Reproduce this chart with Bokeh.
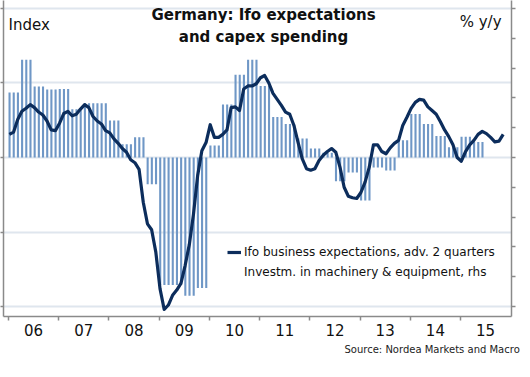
import numpy as np
from bokeh.plotting import figure
from bokeh.models import Range1d, LinearAxis, FixedTicker, Label, Legend, LegendItem, Title
from bokeh.embed import file_html
from bokeh.resources import INLINE

# ---------------- data ----------------
years = list(range(2006, 2016))
year_labels = ["06", "07", "08", "09", "10", "11", "12", "13", "14", "15"]

# Ifo business expectations (index), monthly from Jan 2006, advanced 2 quarters
ifo_values = [
    103.1, 103.4, 105.1, 106.2, 106.6, 107.1, 106.7, 106.1, 105.7, 104.9, 103.7, 103.6,
    104.6, 105.9, 106.2, 105.6, 105.8, 106.5, 107.1, 106.7, 105.5, 104.9, 104.5, 103.6,
    103.3, 102.5, 101.9, 101.2, 100.7, 99.7, 99.3, 98.4, 94.0, 91.1, 90.3, 87.3,
    82.4, 79.6, 80.2, 81.5, 82.2, 83.1, 85.5, 88.3, 92.4, 97.6, 100.9, 102.0,
    104.4, 102.7, 102.7, 103.1, 103.7, 106.7, 106.8, 106.3, 109.2, 109.6, 109.6, 109.9,
    110.7, 111.0, 110.0, 108.6, 107.8, 107.0, 106.1, 105.8, 104.3, 102.0, 99.8, 98.5,
    98.3, 98.5, 99.6, 100.3, 100.8, 101.2, 100.7, 98.7, 96.0, 94.8, 94.6, 94.5,
    95.3, 96.7, 98.7, 101.7, 101.7, 100.8, 100.5, 101.3, 101.9, 102.3, 104.3, 105.4,
    106.6, 107.4, 107.8, 107.7, 106.8, 106.3, 105.8, 104.8, 103.7, 102.8, 101.7, 100.0,
    99.5, 100.8, 101.7, 102.3, 103.1, 103.5, 103.2, 102.7, 102.1, 102.2, 103.1,
]

# Investment in machinery & equipment, % y/y, quarterly from 2006 Q1
capex_values = [
    10.9, 16.4, 11.9, 11.4,
    11.5, 8.1, 9.1, 9.1,
    6.2, 2.2, 3.4, -4.5,
    -21.4, -21.4, -23.2, -21.9,
    2.0, 8.9, 13.9, 16.4,
    12.0, 6.8, 5.6, 3.2,
    1.5, 0.8, -4.0, -2.5,
    -7.2, -1.7, -2.2, 2.9,
    7.3, 5.6, 3.6, 1.7,
    3.5, 2.6,
]

left_ticks = [80, 90, 100, 110, 120]
right_ticks = [-25, -20, -15, -10, -5, 0, 5, 10, 15, 20, 25]

# ---------------- derived positions ----------------
month_x = [2006 + (m + 0.2) / 12 for m in range(len(ifo_values))]
bar_x, bar_top = [], []
for q, v in enumerate(capex_values):
    for j in range(3):
        bar_x.append(2006 + (3 * q + j + 0.25) / 12)
        bar_top.append(v)

LINE = "#0c2d5c"
BAR = "#6f97c6"
GRID = "#dfe6ee"
AXIS = "#8a8a8a"
FONT = "DejaVu Sans"

p = figure(
    width=522, height=361,
    x_range=Range1d(2005.9004, 2016.0155),
    y_range=Range1d(78.66, 121.07),
    output_backend="svg", toolbar_location=None,
    min_border_left=3, min_border_right=11, min_border_top=0, min_border_bottom=45,
)
p.outline_line_color = None
p.background_fill_color = "white"
p.border_fill_color = "white"

p.extra_y_ranges = {"rhs": Range1d(-26.68, 26.34)}

# grid
p.xgrid.visible = False
p.ygrid.ticker = FixedTicker(ticks=left_ticks)
p.ygrid.grid_line_color = GRID
p.ygrid.grid_line_width = 2

# x axis
xax = p.xaxis[0]
xax.ticker = FixedTicker(ticks=[y + 0.5 for y in years], minor_ticks=years)
xax.major_label_overrides = {y + 0.5: lab for y, lab in zip(years, year_labels)}
xax.major_tick_line_color = None
xax.major_tick_out = 4
xax.major_tick_in = 0
xax.minor_tick_line_color = AXIS
xax.minor_tick_out = 4
xax.minor_tick_in = 0
xax.minor_tick_line_width = 1.5
xax.axis_line_color = AXIS
xax.axis_line_width = 1.5
xax.major_label_text_font = FONT
xax.major_label_text_font_size = "15px"
xax.major_label_text_color = "#111111"
xax.major_label_standoff = 3

# left y axis (tick labels fall outside the cropped picture)
yax = p.yaxis[0]
yax.ticker = FixedTicker(ticks=left_ticks)
yax.major_tick_out = 3
yax.major_tick_in = 0
yax.minor_tick_line_color = None
yax.major_tick_line_color = AXIS
yax.major_tick_line_width = 1.5
yax.axis_line_color = AXIS
yax.axis_line_width = 1.5
yax.major_label_text_font_size = "1px"
yax.major_label_text_color = None
yax.major_label_standoff = 0

# right y axis
rax = LinearAxis(y_range_name="rhs", ticker=FixedTicker(ticks=right_ticks))
rax.major_tick_out = 4
rax.major_tick_in = 0
rax.minor_tick_line_color = None
rax.major_tick_line_color = AXIS
rax.major_tick_line_width = 1.5
rax.axis_line_color = AXIS
rax.axis_line_width = 1.5
rax.major_label_text_font_size = "1px"
rax.major_label_text_color = None
rax.major_label_standoff = 0
p.add_layout(rax, "right")

# bars
p.vbar(x=bar_x, top=bar_top, bottom=0, width=0.5 / 12, y_range_name="rhs",
       fill_color=BAR, line_color=None)
# line
line_r = p.line(month_x, ifo_values, line_color=LINE, line_width=3.2, line_join="round")
# legend proxy for bars
proxy = p.scatter(x=[], y=[], marker="square", size=5, y_range_name="rhs",
                  fill_color=BAR, line_color=None)

legend = Legend(
    items=[
        LegendItem(label="Ifo business expectations, adv. 2 quarters", renderers=[line_r]),
        LegendItem(label="Investm. in machinery & equipment, rhs", renderers=[proxy]),
    ],
    location=(224, 37),
    padding=0, margin=0, spacing=6,
    glyph_width=14, glyph_height=12, label_height=12, label_standoff=3,
    label_text_font=FONT, label_text_font_size="12px", label_text_color="#111111",
    border_line_color=None, background_fill_alpha=0,
)
p.add_layout(legend)

# texts
def lab(x, y, text, size, align, bold=False):
    p.add_layout(Label(x=x, y=y, text=text, text_font=FONT, text_font_size=size,
                       text_align=align, text_baseline="middle", text_color="#111111",
                       text_font_style="bold" if bold else "normal"))

lab(2011.0775, 119.19, "Germany: Ifo expectations", "15px", "center", True)
lab(2011.0775, 116.11, "and capex spending", "15px", "center", True)
lab(2006.0, 117.72, "Index", "15px", "left")
lab(2015.8168, 118.12, "% y/y", "15px", "right")

src = Title(text="Source: Nordea Markets and Macro", align="left", offset=341,
            text_font=FONT, text_font_size="10px", text_font_style="normal",
            text_color="#222222", standoff=6)
p.add_layout(src, "below")

open("out.html", "w").write(file_html(p, INLINE))
